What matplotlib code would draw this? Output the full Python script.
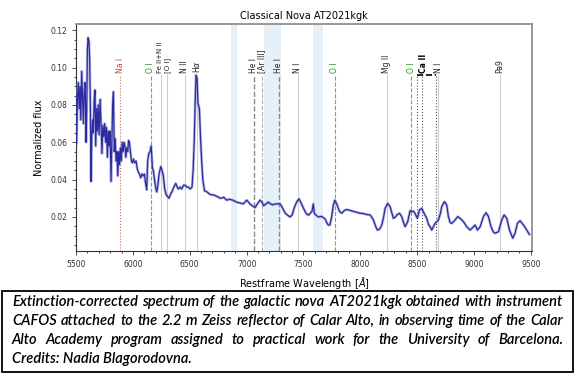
import matplotlib
matplotlib.use("Agg")
import matplotlib.pyplot as plt
from matplotlib.ticker import MultipleLocator, AutoMinorLocator
from matplotlib.patches import Rectangle

# spectrum (wavelength in A, normalized flux)
wave = [5500, 5505, 5512, 5520, 5528, 5535, 5542, 5550, 5557, 5565, 5572, 5580, 5588, 5594,
        5600, 5606, 5614, 5620, 5626, 5632, 5638, 5645, 5652, 5660, 5667, 5673, 5680, 5688,
        5695, 5703, 5712, 5720, 5728, 5736, 5744, 5752, 5760, 5768, 5776, 5784, 5792, 5800,
        5808, 5815, 5822, 5829, 5836, 5844, 5852, 5860, 5867, 5875, 5883, 5890, 5898, 5906,
        5914, 5922, 5930, 5938, 5946, 5955, 5962, 5969, 5978, 5988, 5995, 6005, 6015, 6028,
        6038, 6048, 6058, 6069, 6080, 6090, 6101, 6112, 6122, 6130, 6140, 6152, 6160, 6165,
        6172, 6180, 6188, 6195, 6203, 6210, 6220, 6230, 6245, 6256, 6268, 6280, 6292, 6305,
        6318, 6330, 6347, 6360, 6377, 6390, 6400, 6415, 6430, 6445, 6460, 6475, 6490, 6503,
        6520, 6530, 6540, 6548, 6555, 6565, 6572, 6585, 6595, 6605, 6615, 6630, 6650, 6680,
        6710, 6740, 6770, 6800, 6825, 6850, 6880, 6910, 6942, 6970, 7001, 7030, 7050, 7074,
        7095, 7118, 7135, 7150, 7170, 7191, 7210, 7230, 7250, 7270, 7295, 7310, 7323, 7340,
        7360, 7382, 7400, 7420, 7440, 7461, 7475, 7490, 7514, 7530, 7545, 7560, 7575, 7587,
        7596, 7610, 7631, 7660, 7690, 7705, 7718, 7733, 7748, 7762, 7775, 7793, 7816, 7837,
        7860, 7881, 7910, 7940, 7970, 7998, 8030, 8057, 8086, 8100, 8115, 8135, 8150, 8170,
        8189, 8205, 8218, 8241, 8262, 8291, 8310, 8321, 8344, 8365, 8380, 8394, 8417, 8438,
        8452, 8467, 8480, 8502, 8520, 8540, 8561, 8584, 8600, 8614, 8628, 8645, 8658, 8687,
        8705, 8716, 8740, 8760, 8775, 8790, 8804, 8834, 8857, 8878, 8907, 8936, 8966, 8995,
        9010, 9030, 9054, 9083, 9106, 9127, 9150, 9170, 9185, 9215, 9244, 9265, 9288, 9312,
        9341, 9361, 9382, 9405, 9435, 9464, 9487]
flux = [0.087, 0.059, 0.083, 0.092, 0.078, 0.090, 0.072, 0.098, 0.085, 0.070, 0.088, 0.092, 0.060, 0.077,
        0.110, 0.116, 0.114, 0.104, 0.080, 0.039, 0.062, 0.072, 0.065, 0.083, 0.088, 0.058, 0.078, 0.066,
        0.080, 0.064, 0.083, 0.070, 0.054, 0.069, 0.063, 0.070, 0.060, 0.068, 0.052, 0.066, 0.058, 0.066,
        0.039, 0.060, 0.080, 0.087, 0.055, 0.062, 0.050, 0.055, 0.042, 0.055, 0.048, 0.057, 0.050, 0.060,
        0.055, 0.060, 0.058, 0.052, 0.057, 0.055, 0.061, 0.060, 0.055, 0.050, 0.049, 0.051, 0.049, 0.050,
        0.046, 0.044, 0.043, 0.041, 0.043, 0.042, 0.043, 0.038, 0.0345, 0.050, 0.054, 0.055, 0.058, 0.054,
        0.046, 0.045, 0.041, 0.038, 0.035, 0.0334, 0.037, 0.043, 0.047, 0.045, 0.042, 0.035, 0.032, 0.031,
        0.030, 0.032, 0.034, 0.036, 0.038, 0.036, 0.035, 0.036, 0.035, 0.037, 0.037, 0.036, 0.036, 0.035,
        0.036, 0.045, 0.062, 0.082, 0.096, 0.094, 0.081, 0.078, 0.062, 0.050, 0.040, 0.034, 0.0335, 0.032,
        0.0318, 0.031, 0.030, 0.0305, 0.029, 0.0295, 0.029, 0.028, 0.0275, 0.027, 0.029, 0.027, 0.026, 0.025,
        0.027, 0.029, 0.028, 0.026, 0.027, 0.028, 0.027, 0.0265, 0.027, 0.027, 0.027, 0.0255, 0.024, 0.022,
        0.021, 0.020, 0.021, 0.025, 0.028, 0.0297, 0.028, 0.026, 0.023, 0.0215, 0.021, 0.022, 0.023, 0.027,
        0.022, 0.021, 0.020, 0.0203, 0.019, 0.017, 0.0157, 0.0157, 0.020, 0.026, 0.029, 0.027, 0.023, 0.022,
        0.0235, 0.024, 0.0235, 0.023, 0.0225, 0.022, 0.0218, 0.0213, 0.0211, 0.020, 0.0184, 0.015, 0.0130, 0.0135,
        0.0157, 0.020, 0.0246, 0.0273, 0.0255, 0.0193, 0.020, 0.0211, 0.0220, 0.0202, 0.017, 0.0148, 0.0175, 0.0234,
        0.0228, 0.0232, 0.022, 0.0193, 0.0237, 0.0246, 0.0220, 0.0193, 0.016, 0.0148, 0.0130, 0.015, 0.0166, 0.0184,
        0.022, 0.0255, 0.0282, 0.0264, 0.0202, 0.017, 0.0166, 0.0184, 0.0202, 0.0193, 0.0175, 0.0148, 0.0130, 0.0148,
        0.0157, 0.0130, 0.0148, 0.0202, 0.0223, 0.0202, 0.0148, 0.012, 0.0113, 0.0121, 0.0184, 0.0211, 0.0193, 0.0130,
        0.0086, 0.0113, 0.0166, 0.0180, 0.0157, 0.0130, 0.0107]

# identified lines
line_names = ["Na I", "O I", "Fe II+N II", "[O I]", "N II", r"H$\alpha$", "He I", "[Ar III]", "He I",
              "N I", "O I", "Mg II", "O I", "", "", "", "N I", "Pa9"]
line_waves = [5890, 6158, 6247, 6300, 6456, 6563, 7065, 7136, 7281,
              7452, 7774, 8234, 8446, 8498, 8542, 8662, 8686, 9229]
line_kinds = ["na", "o", "weak", "weak", "weak", "weak", "he", "ar", "he",
              "weak", "o", "weak", "o", "ca", "ca", "ca", "weak", "weak"]

# telluric bands
band_lo = [6860, 7153, 7587]
band_hi = [6913, 7300, 7670]

caption = ["Extinction-corrected spectrum of the galactic nova AT2021kgk obtained with instrument",
           "CAFOS attached to the 2.2 m Zeiss reflector of Calar Alto, in observing time of the Calar",
           "Alto Academy program assigned to practical work for the University of Barcelona.",
           "Credits: Nadia Blagorodovna."]

styles = {
    "na": dict(color="#d9665f", ls=":", lw=0.8),
    "o": dict(color="#5cb85c", ls="--", lw=0.8),
    "weak": dict(color="#cfcfcf", ls="-", lw=0.8),
    "he": dict(color="#8a8a8a", ls="--", lw=1.0),
    "ar": dict(color="#b0b0b0", ls="--", lw=0.8),
    "ca": dict(color="#555555", ls=":", lw=0.8),
}
label_colors = {"na": "#c9403a", "o": "#1f9a1f"}
# small nudges so the two close labels near 6250-6300 do not touch
label_shift = {"Fe II+N II": -10, "[O I]": 8}

ylo, yhi = 0.0018, 0.1233
ytop = 0.096

fig = plt.figure(figsize=(5.76, 3.82), dpi=100)
ax = fig.add_axes([0.132, 0.343, 0.7916, 0.594])

for lo, hi in zip(band_lo, band_hi):
    ax.axvspan(lo, hi, color="#5b9bd5", alpha=0.15, lw=0)

for name, w, kind in zip(line_names, line_waves, line_kinds):
    ax.plot([w, w], [ylo, ytop], zorder=1, **styles[kind])
    if name:
        fs = 5 if name in label_shift else 5.5
        ax.text(w + label_shift.get(name, 0), ytop + 0.0012, name, rotation=90,
                ha="center", va="bottom", fontsize=fs,
                color=label_colors.get(kind, "#222222"))

ca = [w for w, k in zip(line_waves, line_kinds) if k == "ca"]
ax.plot([ca[0], ca[-1]], [ytop, ytop], color="black", ls="--", lw=1.2)
ax.text(8555, ytop + 0.0012, "Ca II", rotation=90, ha="center", va="bottom",
        fontsize=5.5, fontweight="semibold", color="black")

ax.plot(wave, flux, color="#8c8cd8", lw=2.0, alpha=0.6, zorder=3)
ax.plot(wave, flux, color="#2b2b9e", lw=0.9, zorder=4)

ax.set_xlim(5500, 9510)
ax.set_ylim(ylo, yhi)
ax.xaxis.set_major_locator(MultipleLocator(500))
ax.yaxis.set_major_locator(MultipleLocator(0.02))
ax.xaxis.set_minor_locator(AutoMinorLocator(5))
ax.yaxis.set_minor_locator(AutoMinorLocator(4))
ax.tick_params(labelsize=5.5, length=3, width=0.6, colors="#333333")
ax.tick_params(which="minor", length=1.5, width=0.5)
for s in ["top", "right"]:
    ax.spines[s].set_color("#888888")
    ax.spines[s].set_linewidth(1.2)
for s in ["left", "bottom"]:
    ax.spines[s].set_color("#333333")
    ax.spines[s].set_linewidth(0.8)

ax.set_title("Classical Nova AT2021kgk", fontsize=7, pad=4)
ax.set_xlabel(r"Restframe Wavelength [$\AA$]", fontsize=7)
ax.set_ylabel("Normalized flux", fontsize=7)

# caption box
fig.add_artist(Rectangle((0.0035, 0.026), 0.991, 0.212, transform=fig.transFigure,
                         fill=False, lw=1.3, ec="black"))
renderer = fig.canvas.get_renderer()
x_left, x_right = 12 / 576, 563 / 576
for i, line in enumerate(caption):
    y = 1 - (302 + 19 * i) / 382
    kw = dict(fontsize=10.5, family="Lato", style="italic", weight="semibold",
              va="center", ha="left")
    if i == len(caption) - 1:
        fig.text(x_left, y, line, **kw)
        continue
    words = line.split()
    texts = [fig.text(0, y, w, **kw) for w in words]
    widths = [t.get_window_extent(renderer).width / fig.bbox.width for t in texts]
    gap = (x_right - x_left - sum(widths)) / (len(words) - 1)
    x = x_left
    for t, w in zip(texts, widths):
        t.set_x(x)
        x += w + gap

fig.savefig("out.png", dpi=100)
